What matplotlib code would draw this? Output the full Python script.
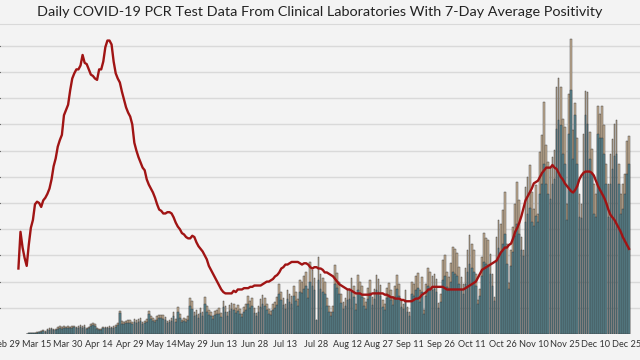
import numpy as np
import matplotlib
matplotlib.use("Agg")
import matplotlib.pyplot as plt

# daily PCR tests (hundreds), starting on day 10 after Feb 29
total_tests = [
    0.5, 1, 1, 1.5, 1.5, 2, 2, 3, 4, 3,
    5, 6, 6.5, 5, 5.5, 7.5, 8, 7, 8, 7.5,
    8, 7.5, 8, 8.5, 7.5, 8, 9.5, 8, 9, 6,
    7, 10, 11, 10.5, 6, 5, 5.5, 7, 7.5, 7,
    8, 7, 8, 9, 11, 23, 13, 12, 13, 14,
    14, 12, 15, 14, 15.5, 16, 12, 13, 15, 23,
    18, 16, 14, 18, 19, 19.5, 19, 17, 13, 14,
    16, 22, 15, 27, 20, 14, 16, 15, 18, 36,
    33, 22, 24, 20, 26, 22, 37, 28, 24, 22,
    18, 23, 24, 26, 21, 33, 28, 22, 29, 31,
    30, 26, 29, 25, 20, 27, 30, 38, 33, 36,
    26, 21, 28, 35, 39, 36, 30, 25, 23, 30,
    32, 37, 50, 42, 36, 30, 44, 40, 38, 48,
    42, 35, 54, 52, 58, 62, 45, 72, 64, 56,
    14, 77, 60, 56, 52, 36, 28, 22, 28, 69,
    61, 52, 40, 32, 36, 44, 45, 56, 48, 30,
    59, 52, 48, 36, 32, 46, 54, 37, 45, 59,
    55, 49, 34, 30, 46, 51, 44, 37, 48, 59,
    50, 34, 30, 44, 27, 22, 52, 50, 58, 61,
    44, 57, 24, 50, 66, 62, 58, 60, 55, 31,
    40, 74, 79, 62, 57, 71, 87, 85, 81, 67,
    57, 50, 66, 84, 99, 90, 84, 60, 34, 45,
    77, 101, 96, 94, 80, 60, 37, 97, 114, 110,
    124, 142, 90, 51, 84, 107, 130, 152, 134, 97,
    84, 147, 157, 169, 142, 125, 149, 120, 182, 199,
    232, 189, 172, 167, 177, 184, 247, 256, 247, 215,
    207, 130, 240, 295, 204, 231, 196, 140, 130, 200,
    243, 242, 202, 185, 150, 140, 228, 220, 228, 209,
    170, 150, 180, 195, 210, 214, 170, 140, 150, 160,
    193, 198,
]
teal_tests = [
    0.5, 1, 1, 1.2, 1.2, 1.5, 1.7, 2.5, 3, 2.5,
    4, 4.5, 5, 4, 4, 5.5, 6, 5.5, 6, 6,
    6.5, 6, 6.5, 7, 6, 6.5, 7.5, 6.5, 7, 5,
    6, 8, 9, 8.5, 5, 4, 4.5, 6, 6, 6,
    6.5, 6, 6.5, 7.5, 9, 21, 10.5, 10, 11, 11.5,
    11, 10, 12, 11.5, 12.5, 13, 10, 11, 12, 20,
    15, 13, 12, 14.5, 16, 16, 15.5, 14, 11, 12,
    13, 18, 12.5, 22, 16, 12, 13, 12.5, 14, 28,
    25, 18, 19, 16, 21, 18, 30, 22, 19, 18,
    15, 19, 20, 20, 17, 27, 22, 18, 23, 25,
    24, 21, 23, 20, 17, 22, 24, 30, 26, 28,
    21, 18, 22, 27, 30, 28, 24, 20, 19, 24,
    26, 29, 40, 34, 29, 25, 35, 32, 30, 38,
    33, 28, 42, 41, 45, 48, 36, 52, 48, 44,
    14, 54, 45, 42, 40, 28, 22, 18, 22, 50,
    46, 40, 31, 25, 28, 34, 35, 42, 37, 24,
    44, 40, 37, 28, 25, 35, 41, 29, 35, 44,
    42, 38, 27, 24, 36, 39, 34, 29, 37, 45,
    38, 27, 25, 34, 22, 18, 40, 38, 44, 46,
    32, 42, 20, 38, 48, 46, 44, 45, 42, 26,
    32, 54, 58, 47, 44, 52, 62, 60, 58, 50,
    44, 40, 50, 62, 70, 66, 62, 48, 30, 38,
    58, 72, 70, 68, 60, 48, 33, 74, 86, 82,
    90, 100, 70, 45, 68, 82, 98, 110, 100, 84,
    78, 112, 120, 126, 112, 108, 118, 112, 140, 150,
    170, 150, 140, 135, 150, 155, 205, 214, 209, 180,
    170, 114, 200, 244, 175, 219, 170, 117, 116, 160,
    219, 210, 175, 160, 120, 117, 200, 196, 196, 180,
    150, 117, 150, 165, 178, 180, 150, 120, 125, 140,
    160, 170,
]

# 7-day average positivity (%), starting on day 6
positivity = [
    5.0, 7.8, 6.6, 5.8, 5.2, 6.8, 8.1, 8.7, 9.9, 10.1,
    10.0, 9.7, 10.2, 10.4, 10.7, 11.1, 11.8, 12.8, 13.4, 14.3,
    14.8, 15.2, 16.7, 17.1, 17.5, 18.6, 19.5, 19.9, 20.2, 20.2,
    20.5, 21.3, 20.7, 20.6, 20.2, 19.8, 19.7, 19.5, 19.4, 20.2,
    20.2, 20.8, 21.9, 22.4, 22.4, 22.1, 20.8, 19.9, 19.5, 19.2,
    18.5, 17.9, 17.3, 16.9, 16.6, 16.0, 14.6, 14.0, 13.5, 13.1,
    12.7, 12.5, 11.8, 11.4, 11.1, 10.8, 10.4, 9.9, 9.5, 9.4, 9.2,
    9.2, 9.3, 9.3, 9.2, 8.9, 8.5, 8.2, 8.0, 7.7, 7.6,
    7.4, 7.3, 7.3, 7.5, 7.4, 7.0, 6.7, 6.5, 6.3, 6.0,
    5.7, 5.2, 4.9, 4.6, 4.3, 4.0, 3.7, 3.4, 3.2, 3.1,
    3.1, 3.1, 3.1, 3.3, 3.2, 3.4, 3.4, 3.4, 3.5, 3.5,
    3.5, 3.6, 3.6, 3.7, 3.7, 3.7, 3.7, 3.8, 3.9, 4.0,
    4.0, 4.1, 4.2, 4.4, 4.5, 4.7, 5.0, 5.1, 5.3, 5.3,
    5.4, 5.5, 5.5, 5.5, 5.5, 5.4, 5.3, 5.4, 5.4, 5.3, 5.1,
    5.0, 5.1, 5.1, 5.0, 5.0, 4.9, 4.7, 4.7, 4.6, 4.5,
    4.4, 4.2, 4.0, 3.8, 3.7, 3.6, 3.5, 3.4, 3.4, 3.3,
    3.2, 3.1, 3.1, 3.1, 3.0, 3.0, 3.0, 3.0, 3.0, 3.1,
    3.1, 3.1, 3.1, 3.1, 3.1, 3.0, 3.0, 2.9, 2.8, 2.8,
    2.7, 2.7, 2.7, 2.6, 2.6, 2.5, 2.5, 2.5, 2.5, 2.6,
    2.7, 2.7, 2.8, 3.0, 3.1, 3.2, 3.4, 3.4, 3.6, 3.6,
    3.6, 3.6, 3.6, 3.6, 3.5, 3.4, 3.4, 3.4, 3.4, 3.4, 3.4,
    3.4, 3.4, 3.4, 3.5, 3.6, 3.7, 3.8, 3.9, 4.0, 4.3,
    4.6, 4.9, 5.0, 5.1, 5.2, 5.3, 5.4, 5.5, 5.6, 5.9,
    6.2, 6.4, 6.6, 6.6, 6.8, 6.9, 7.3, 7.8, 8.1, 8.5,
    9.0, 9.6, 10.2, 10.5, 10.8, 11.1, 11.5, 11.6, 11.7, 12.0,
    12.3, 12.5, 12.7, 12.7, 12.7, 12.9, 12.7, 12.6, 12.3, 12.0,
    11.8, 11.5, 11.3, 11.1, 10.9, 10.8, 11.0, 11.3, 11.8, 12.1,
    12.3, 12.4, 12.4, 12.4, 12.3, 12.1, 11.7, 11.3, 11.0, 10.7, 10.4,
    10.0, 9.5, 9.1, 8.9, 8.7, 8.4, 8.1, 7.8, 7.4, 7.1, 6.8, 6.5,
]

tick_labels = ["Feb 29", "Mar 15", "Mar 30", "Apr 14", "Apr 29", "May 14", "May 29",
               "Jun 13", "Jun 28", "Jul 13", "Jul 28", "Aug 12", "Aug 27", "Sep 11",
               "Sep 26", "Oct 11", "Oct 26", "Nov 10", "Nov 25", "Dec 10", "Dec 25"]

bar_days = np.arange(10, 10 + len(total_tests))
line_days = np.arange(6, 6 + len(positivity))

bg = "#f3f3f3"
plt.rcParams["font.family"] = ["Lato", "DejaVu Sans"]

fig = plt.figure(figsize=(6.4, 3.6), dpi=100, facecolor=bg)
ax = fig.add_axes([0, 26 / 360, 1, 310 / 360], facecolor=bg)

ax.bar(bar_days, total_tests, width=0.8, color="#c6b096", edgecolor="#333333",
       linewidth=0.3, zorder=2)
ax.bar(bar_days, teal_tests, width=0.8, color="#5a8690", edgecolor="#333333",
       linewidth=0.3, zorder=3)

ax.set_xlim(-2.9, 306.3)
ax.set_ylim(0, 310)
ax.set_yticks(np.arange(26.2, 300, 26.2))
ax.yaxis.grid(True, color="#d9d9d9", linewidth=1.0, zorder=0)
ax.set_axisbelow(True)
ax.tick_params(axis="y", left=False, labelleft=False)
ax.set_xticks(np.arange(0, 301, 15))
ax.set_xticklabels(tick_labels, fontsize=6.6, color="#333333")
ax.tick_params(axis="x", length=0, pad=4)
for side in ["left", "right", "bottom"]:
    ax.spines[side].set_visible(False)
ax.spines["top"].set_color("#d9d9d9")

ax2 = ax.twinx()
ax2.plot(line_days, positivity, color="#a01414", linewidth=1.7, zorder=5)
ax2.set_ylim(0, 310 / 13.1)
ax2.axis("off")

fig.text(0.5, 0.968, "Daily COVID-19 PCR Test Data From Clinical Laboratories With 7-Day Average Positivity",
         ha="center", va="center", fontsize=10.4, color="#222222")

fig.savefig("out.png", dpi=100, facecolor=bg)
